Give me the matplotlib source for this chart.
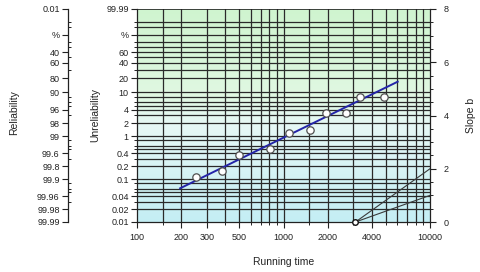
import numpy as np
import matplotlib
matplotlib.use("Agg")
import matplotlib.pyplot as plt
from matplotlib.colors import LinearSegmentedColormap

plt.rcParams['font.family'] = ['Liberation Sans', 'DejaVu Sans']

# ---- data ----
times = [253, 379, 497, 809, 1090, 1517, 1941, 2672, 3327, 4875]
unrel = [0.11, 0.157, 0.364, 0.50, 1.20, 1.38, 3.46, 3.46, 7.73, 7.8]
fit_t = [197, 6020]
fit_F = [0.061, 17.0]
pole_t = 3100
slope_end_t = 10000
slope_vals = [2, 1]

x_ticks = [100, 200, 300, 500, 1000, 2000, 4000, 10000]
x_grid = [150, 200, 300, 400, 500, 600, 700, 800, 900, 1000, 1500, 2000,
          3000, 4000, 5000, 6000, 7000, 8000, 9000]
y_major = [99.99, 90, 60, 40, 20, 10, 4, 2, 1, 0.4, 0.2, 0.1, 0.04, 0.02, 0.01]
unrel_labels = ['99.99', '%', '60', '40', '20', '10', '4', '2', '1', '0.4', '0.2',
                '0.1', '0.04', '0.02', '0.01']
rel_labels = ['0.01', '%', '40', '60', '80', '90', '96', '98', '99', '99.6', '99.8',
              '99.9', '99.96', '99.98', '99.99']
y_grid = [99, 97, 90, 80, 70, 60, 50, 40, 30, 20, 10, 8, 6, 5, 4, 3, 2, 1, 0.8,
          0.6, 0.5, 0.4, 0.3, 0.2, 0.1, 0.08, 0.06, 0.05, 0.04, 0.03, 0.02]
slope_ticks = [0, 2, 4, 6, 8]


def fwd(p):
    p = np.clip(np.asarray(p, dtype=float), 1e-9, 100 - 1e-9)
    return np.log(-np.log(1 - p / 100.0))


def inv(y):
    y = np.asarray(y, dtype=float)
    return 100.0 * (1 - np.exp(-np.exp(y)))


W, H = 480, 272
fig = plt.figure(figsize=(W / 100, H / 100), dpi=100)
L, R, T, B = 137, 430, 9, 222
pos = [L / W, 1 - B / H, (R - L) / W, (B - T) / H]
ax = fig.add_axes(pos)
ax.set_xscale('log')
ax.set_yscale('function', functions=(fwd, inv))
ax.set_xlim(100, 10000)
ax.set_ylim(0.01, 99.99)

# background gradient
cmap = LinearSegmentedColormap.from_list(
    'bg', [(0.0, '#c4eef4'), (0.45, '#e6f8f6'), (0.6, '#e0f8e2'), (1.0, '#cff4cf')])
grad = np.linspace(0, 1, 256).reshape(-1, 1)
ax.imshow(grad, cmap=cmap, aspect='auto', origin='lower',
          extent=[0, 1, 0, 1], transform=ax.transAxes, zorder=0)

for gx in x_grid:
    ax.axvline(gx, color='#2a2a2a', lw=0.9, zorder=1)
for gy in y_grid:
    ax.axhline(gy, color='#2a2a2a', lw=0.9, zorder=1)

ax.plot(fit_t, fit_F, color='#2424a8', lw=1.4, zorder=3)
ax.plot(times, unrel, 'o', ms=5.3, mfc='white', mec='#505050', mew=0.9, zorder=4)

ax.set_xticks(x_ticks)
ax.set_xticklabels([str(v) for v in x_ticks])
ax.set_xticks(x_grid, minor=True)
ax.set_xticklabels([], minor=True)
ax.set_yticks(y_major)
ax.set_yticklabels(unrel_labels)
ax.set_yticks(y_grid, minor=True)
ax.set_yticklabels([], minor=True)
ax.tick_params(axis='both', which='major', labelsize=6.5, length=4, width=0.8,
               color='#222222', labelcolor='#222222', pad=2)
ax.tick_params(axis='x', which='major', pad=4)
ax.tick_params(axis='both', which='minor', length=2.5, width=0.7, color='#222222')
for s in ['top', 'right']:
    ax.spines[s].set_visible(False)
for s in ['left', 'bottom']:
    ax.spines[s].set_color('#222222')
    ax.spines[s].set_linewidth(0.9)
ax.axhline(99.99, color='#222222', lw=1.2, zorder=2)
ax.set_xlabel('Running time', fontsize=7.5, color='#222222', labelpad=11)
ax.set_ylabel('Unreliability', fontsize=7.5, color='#222222', labelpad=4)

# slope axis on the right
ax2 = ax.twinx()
ax2.set_ylim(0, 8)
ax2.set_yticks(slope_ticks)
ax2.set_yticks(np.arange(0, 8.01, 0.5), minor=True)
for s in ['top', 'left', 'bottom']:
    ax2.spines[s].set_visible(False)
ax2.spines['right'].set_color('#222222')
ax2.spines['right'].set_linewidth(0.9)
ax2.tick_params(axis='y', which='major', labelsize=6.5, length=4, width=0.8,
                color='#222222', labelcolor='#222222', pad=6)
ax2.tick_params(axis='y', which='minor', length=2.5, width=0.7, color='#222222')
for sv in slope_vals:
    ax2.plot([pole_t, slope_end_t], [0, sv], color='#3a3a3a', lw=0.8, zorder=3)
ax2.plot([pole_t], [0], 'o', ms=4, mfc='white', mec='#111111', mew=1.0,
         zorder=5, clip_on=False)
ax2.set_ylabel('Slope b', fontsize=7.5, color='#222222', labelpad=12)

# reliability axis on the far left
axr = fig.add_axes([68 / W, pos[1], 0.0001, pos[3]])
axr.set_yscale('function', functions=(fwd, inv))
axr.set_ylim(0.01, 99.99)
axr.set_xticks([])
axr.set_yticks(y_major)
axr.set_yticklabels(rel_labels)
axr.set_yticks(y_grid, minor=True)
axr.set_yticklabels([], minor=True)
for s in ['top', 'right', 'bottom']:
    axr.spines[s].set_visible(False)
axr.spines['left'].set_color('#222222')
axr.spines['left'].set_linewidth(0.9)
axr.tick_params(axis='y', which='major', labelsize=6.5, length=4, width=0.8,
                color='#222222', labelcolor='#222222', pad=2)
axr.tick_params(axis='y', which='minor', direction='in', length=2.5, width=0.7,
                color='#222222')
axr.patch.set_visible(False)
fig.text(14 / W, 1 - 113 / H, 'Reliability', rotation=90, fontsize=7.5,
         color='#222222', ha='center', va='center')

fig.savefig('out.png', dpi=100, facecolor='white')
